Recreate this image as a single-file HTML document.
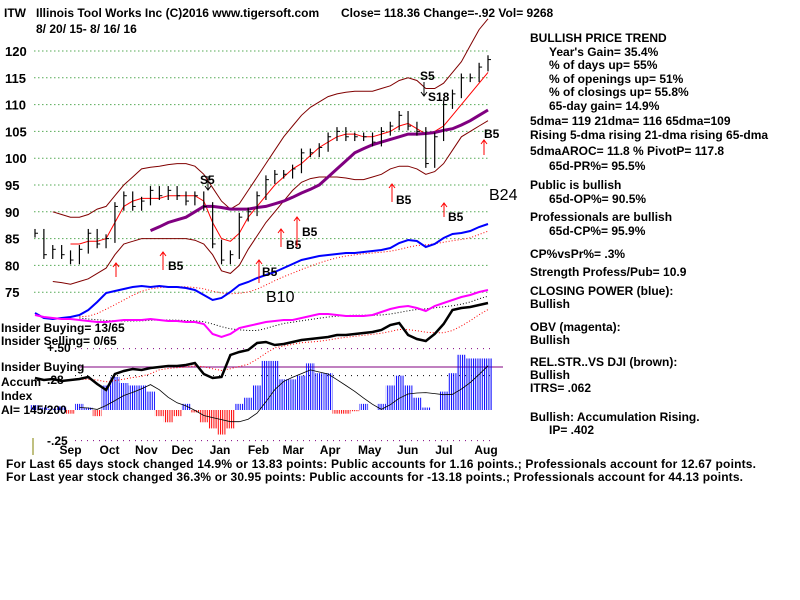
<!DOCTYPE html>
<html><head><meta charset="utf-8"><style>
body{margin:0;background:#fff;}
svg{display:block;font-family:"Liberation Sans",sans-serif;font-weight:bold;}
</style></head><body>
<svg width="800" height="600" viewBox="0 0 800 600" id="chart">
<defs><pattern id="bstripe" width="2.2" height="10" patternUnits="userSpaceOnUse"><rect width="1" height="10" fill="#0000ff"/></pattern>
<pattern id="rstripe" width="2.2" height="10" patternUnits="userSpaceOnUse"><rect width="1" height="10" fill="#ff0000"/></pattern></defs>
<g id="grid"></g>
<g id="marks"></g>
<g font-size="12">
<text x="4" y="17">ITW</text><text x="36" y="17">Illinois Tool Works Inc  (C)2016 www.tigersoft.com</text>
<text x="341" y="17">Close=  118.36  Change=-.92 Vol= 9268</text>
<text x="36" y="33">8/ 20/ 15- 8/ 16/ 16</text></g>
<g font-size="12">
<text x="530" y="42">BULLISH PRICE TREND</text>
<text x="549" y="56">Year's Gain= 35.4%</text>
<text x="549" y="69">% of days up= 55%</text>
<text x="549" y="83">% of openings up= 51%</text>
<text x="549" y="96">% of closings up= 55.8%</text>
<text x="549" y="110">65-day gain= 14.9%</text>
<text x="530" y="125">5dma= 119 21dma= 116 65dma=109</text>
<text x="530" y="139">Rising 5-dma  rising 21-dma  rising 65-dma</text>
<text x="530" y="155">5dmaAROC= 11.8 %  PivotP= 117.8</text>
<text x="549" y="170">65d-PR%= 95.5%</text>
<text x="530" y="189">Public is bullish</text>
<text x="549" y="203">65d-OP%= 90.5%</text>
<text x="530" y="221">Professionals are bullish</text>
<text x="549" y="235">65d-CP%= 95.9%</text>
<text x="530" y="258">CP%vsPr%=  .3%</text>
<text x="530" y="276">Strength Profess/Pub= 10.9</text>
<text x="530" y="295">CLOSING POWER (blue):</text>
<text x="530" y="308">Bullish</text>
<text x="530" y="331">OBV (magenta):</text>
<text x="530" y="344">Bullish</text>
<text x="530" y="366">REL.STR..VS DJI (brown):</text>
<text x="530" y="379">Bullish</text>
<text x="530" y="392">ITRS= .062</text>
<text x="530" y="421">Bullish: Accumulation Rising.</text>
<text x="549" y="434">IP=  .402</text></g>
<g font-size="12">
<text x="1" y="332">Insider Buying= 13/65</text>
<text x="1" y="345">Insider Selling= 0/65</text>
<text x="47" y="352">+.50</text>
<text x="1" y="371">Insider Buying</text>
<text x="1" y="386">Accum</text><text x="47" y="384">.28</text>
<text x="1" y="400">Index</text>
<text x="1" y="414">AI= 145/200</text>
<text x="47" y="445">-.25</text></g>
<line x1="33" y1="438" x2="33" y2="455" stroke="#808000"/>
<g id="months" font-size="12"></g>
<g font-size="12">
<text x="6" y="468" textLength="750" lengthAdjust="spacing">For Last 65 days stock changed  14.9% or  13.83 points:  Public accounts for  1.16 points.;  Professionals account for  12.67 points.</text>
<text x="6" y="481" textLength="737" lengthAdjust="spacing">For Last year stock changed  36.3% or  30.95 points:  Public accounts for -13.18 points.;  Professionals account for  44.13 points.</text></g>
<g font-size="12" fill="#000">
<text x="200" y="184">S5</text><text x="420" y="80">S5</text><text x="428" y="101">S18</text>
<text x="168" y="270">B5</text><text x="262" y="276">B5</text><text x="286" y="249">B5</text><text x="302" y="236">B5</text>
<text x="396" y="204">B5</text><text x="448" y="221">B5</text><text x="484" y="138">B5</text>
<text x="489" y="200" font-size="16" font-weight="normal">B24</text>
<text x="266" y="302" font-size="16" font-weight="normal">B10</text></g>
<g stroke="#ff0000" fill="none">
<path d="M163 270V252M160 256L163 252L166 256"/><path d="M259 283V260M256 264L259 260L262 264"/>
<path d="M281 247V229M278 233L281 229L284 233"/><path d="M297 247V217M294 221L297 217L300 221"/>
<path d="M392 202V184M389 188L392 184L395 188"/><path d="M444 217V203M441 207L444 203L447 207"/>
<path d="M484 155V140M481 144L484 140L487 144"/><path d="M116 277V263M113 267L116 263L119 267"/></g>
<g stroke="#000" fill="none">
<path d="M208 176V190M205 186L208 190L211 186"/><path d="M424 82V96M421 92L424 96L427 92"/></g>
</svg>
<script>
const weeks=52;
const monthLabels=["Sep","Oct","Nov","Dec","Jan","Feb","Mar","Apr","May","Jun","Jul","Aug"];
const monthWeek=[4,8.5,12.5,16.6,20.9,25.2,29.1,33.3,37.6,42,46.3,50.7];
const priceTicks=[120,115,110,105,100,95,90,85,80,75];
const closes=[86,82,83,82,81,83,86,84,85,91,93,91,92,94,93,94,93,92,93,91,84,81,82,89,90,93,96,97,97,98,101,101,102,104,105,104,104,104,103,105,106,108,106,105,99,104,110,112,115,115,117,118.4];
const ma21=[null,null,null,null,84,84,84.5,84.5,85,88,91,92,92.5,92.5,92.5,93,93,93,93,92,88,85,84.5,86,89,91,93,95,96.5,98,99,100.5,102,103,104,104.5,104.5,104,104,104.5,105,106,106.5,105.5,104.5,105,106,108,110,112,114,116];
const ma65=[null,null,null,null,null,null,null,null,null,null,null,null,null,86.5,87.2,88,88.5,89,90,91,91,90.8,90.5,90.5,90.5,90.8,91,91.5,92,92.7,93.5,94.2,95,96.5,98,99.5,101,101.8,102.5,103,103.5,104,104.5,104.5,104.6,104.8,105.2,105.5,106.2,107,108,109];
const upper=[null,null,90,89.5,89,89,89.5,90.5,91,93,95,96.5,98,98.3,98.5,98.8,99,99,98.5,97,94.5,92,90.5,91.5,94,96.5,99,101.5,104,106,108,109.5,110.5,111.5,112,112.3,112.5,112.5,112.5,113,113.5,114.5,115,114.5,113,113,114,116,118,121,124,126];
const lower=[null,null,77,76.8,76.5,77,77.5,78.5,79.5,82,84,84.5,85,85,85,85,85,85,84.7,84,82,79,78.5,80,83,85.5,88,90,92,94,95.5,96.2,96.5,96.5,96.5,96.3,96,96,96.5,97,98,98.5,98.5,98,97,97.5,99,101.5,104,105,106,107];
const cp=[17,12,11,12,13,15,20,28,37,39,41,43,44,43,44,43,43,42,40,35,30,32,38,45,48,52,55,58,62,66,70,72,74,75,76,77,77,78,79,80,82,87,90,89,83,86,92,96,97,99,103,106];
const obv=[15,13,12,11,11,10,9,8,8,9,10,10,10,11,10,9,9,8,8,6,-4,-7,-4,2,4,6,8,9,10,10,12,14,16,16,15,14,14,14,15,18,21,23,24,22,19,24,27,30,33,35,38,40];
const rs=[-48,-50,-49,-51,-50,-49,-47,-54,-60,-44,-41,-39,-40,-38,-37,-36,-36,-35,-33,-44,-48,-47,-25,-22,-20,-13,-12,-15,-14,-12,-10,-9,-8,-7,-5,-5,-4,-3,-2,0,5,7,-5,-9,-11,-4,6,20,22,23,25,27];
const accum=[.04,.02,.01,.03,-.03,.05,.02,-.05,.2,.27,.22,.2,.2,.15,-.05,-.1,-.05,.05,-.02,-.1,-.15,-.2,-.15,.05,.1,.2,.4,.4,.25,.25,.28,.38,.3,.3,-.03,-.03,-.01,.05,0,.05,.2,.28,.2,.1,.02,0,.15,.3,.45,.42,.42,.42];
const NS="http://www.w3.org/2000/svg";
const svg=document.getElementById('chart'),grid=document.getElementById('grid'),marks=document.getElementById('marks');
const xw=i=>35+i*(488-35)/(weeks-1);
const yp=p=>51+(120-p)*5.36;
const yl=v=>330-v;
const ya=v=>410-v*122.7;
function mk(t,a,parent){const e=document.createElementNS(NS,t);for(const k in a)e.setAttribute(k,a[k]);(parent||marks).appendChild(e);return e;}
priceTicks.forEach(p=>{
 const l=mk('line',{x1:100/3+1,y1:yp(p),x2:490,y2:yp(p),stroke:'#008000','stroke-dasharray':'1,3'},grid);
 
 
 const t=mk('text',{x:5,y:yp(p)+5,'font-size':'13'},grid);t.textContent=p;
 
 
});
[[.5,'#800080'],[.28,'#000'],[-.25,'#800080']].forEach(([v,c])=>{
 const l=mk('line',{x1:75,y1:ya(v),x2:490,y2:ya(v),stroke:c,'stroke-dasharray':'1,5'},grid);
 
 
});
const hl=mk('line',{x1:80,y1:367,x2:503,y2:367,stroke:'#800080'},grid);


accum.forEach((v,i)=>{
 const w=(488-35)/(weeks-1);const y0=ya(0),y1=ya(v);
 const r=mk('rect',{x:xw(i)-w/2,y:Math.min(y0,y1),width:w,height:Math.abs(y1-y0),fill:v>=0?'url(#bstripe)':'url(#rstripe)'});
 
 
});
function line(arr,yf,col,w,dash,name){
 const pts=arr.map((v,i)=>v==null?null:xw(i).toFixed(1)+','+yf(v).toFixed(1)).filter(Boolean).join(' ');
 const p=mk('polyline',{points:pts,fill:'none',stroke:col,'stroke-width':w});
 if(dash)p.setAttribute('stroke-dasharray',dash);
 
 
}
function lagged(arr,k){return arr.map((v,i)=>{let s=0,n=0;for(let j=Math.max(0,i-k);j<=i;j++){s+=arr[j];n++;}return i<k?null:s/n;});}
line(lagged(accum,5),ya,'#000',0.8,null,'accum-ma-line');
line(upper,yp,'#800000',1,null,'upper-band');
line(lower,yp,'#800000',1,null,'lower-band');
line(ma21,yp,'#ff0000',1,null,'ma21-line');
line(ma65,yp,'#800080',3,null,'ma65-line');
line(lagged(cp,5),yl,'#ff0000',1,'1,2','cp-ma-line');
line(lagged(obv,5),yl,'#000',1,'1,2','obv-ma-line');
line(lagged(rs,5),yl,'#ff0000',1,'1,2','rs-ma-line');
line(cp,yl,'#0000ff',2,null,'closing-power-line');
line(obv,yl,'#ff00ff',2,null,'obv-line');
line(rs,yl,'#000',2.5,null,'rel-strength-line');
closes.forEach((c,i)=>{
 const prev=i?closes[i-1]:c;const hi=Math.max(c,prev)+0.8,lo=Math.min(c,prev)-0.8;
 const b=mk('line',{x1:xw(i),y1:yp(hi),x2:xw(i),y2:yp(lo),stroke:'#000','stroke-width':1.2});
 
 
 const t=mk('line',{x1:xw(i),y1:yp(c),x2:xw(i)+3,y2:yp(c),stroke:'#000'});
 
 
});
const mg=document.getElementById('months');
monthLabels.forEach((m,i)=>{
 const t=mk('text',{x:xw(monthWeek[i])-11,y:454},mg);t.textContent=m;
 
 
});
</script>
</body></html>
